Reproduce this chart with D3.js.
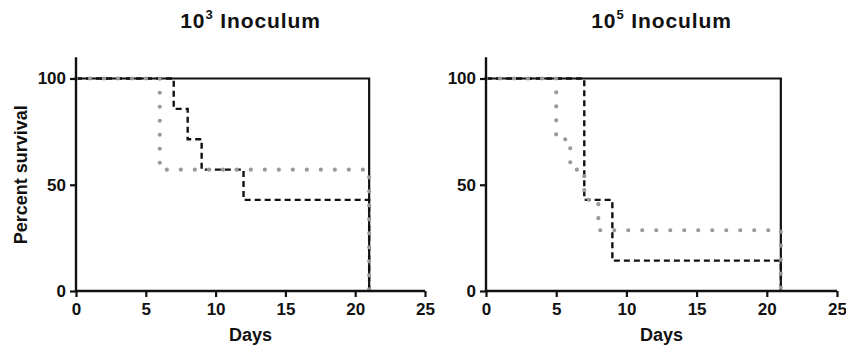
<!DOCTYPE html>
<html>
<head>
<meta charset="utf-8">
<script src="https://cdn.jsdelivr.net/npm/d3@7"></script>
<style>
  body { margin: 0; background: #fff; }
  svg text { font-family: "Liberation Sans", Arial, sans-serif; font-weight: bold; fill: #111; }
</style>
</head>
<body>
<svg id="chart" width="846" height="349"></svg>
<script>
const svg = d3.select("#chart");

// survival curves as [day, percent] pairs (step after)
const low_solid  = [[0, 100], [21, 0]];
const low_dashed = [[0, 100], [7, 85.7], [8, 71.4], [9, 57.1], [12, 42.9], [21, 0]];
const low_dotted = [[0, 100], [6, 57.1], [21, 0]];

const high_solid  = [[0, 100], [21, 0]];
const high_dashed = [[0, 100], [7, 42.9], [9, 14.3], [21, 0]];
const high_dotted = [[0, 100], [5, 71.4], [6, 57.1], [7, 42.9], [8, 28.6], [21, 0]];

const xTicks = [0, 5, 10, 15, 20, 25];
const yTicks = [0, 50, 100];

const panels = [
    { title: "10", sup: "3", left: 76, right: 425, ylabel: true,
      series: [low_solid, low_dashed, low_dotted] },
    { title: "10", sup: "5", left: 486, right: 837, ylabel: false,
      series: [high_solid, high_dashed, high_dotted] }
];

const styles = [
    { stroke: "#111", width: 2.2, dash: null, cap: "butt" },
    { stroke: "#111", width: 2.4, dash: "6,4", cap: "butt" },
    { stroke: "#999", width: 4.2, dash: "0,14", cap: "round" }
];

const bottom = 291;
const top100 = 78.5;

panels.forEach(p => {
    const x = d3.scaleLinear().domain([0, 25]).range([p.left, p.right]);
    const y = d3.scaleLinear().domain([0, 100]).range([bottom, top100]);

    const g = svg.append("g");

    const line = d3.line()
        .x(d => x(d[0]))
        .y(d => y(d[1]))
        .curve(d3.curveStepAfter);

    p.series.forEach((s, i) => {
        const st = styles[i];
        g.append("path")
            .datum(s)
            .attr("d", line)
            .attr("fill", "none")
            .attr("stroke", st.stroke)
            .attr("stroke-width", st.width)
            .attr("stroke-dasharray", st.dash)
            .attr("stroke-linecap", st.cap);
    });

    const xAxis = g.append("g")
        .attr("transform", `translate(0,${bottom})`)
        .call(d3.axisBottom(x).tickValues(xTicks).tickSize(6).tickPadding(6).tickSizeOuter(0));

    const yAxis = g.append("g")
        .attr("transform", `translate(${p.left},0)`)
        .call(d3.axisLeft(y).tickValues(yTicks).tickSize(6).tickPadding(4).tickSizeOuter(0));

    [xAxis, yAxis].forEach(a => {
        a.select(".domain").attr("stroke", "#111").attr("stroke-width", 2.4);
        a.selectAll(".tick line").attr("stroke", "#111").attr("stroke-width", 2.2);
        a.selectAll(".tick text").style("font-size", "17px").attr("fill", "#111");
    });
    // y axis runs a bit above 100
    yAxis.select(".domain").attr("d", `M0,${y(110)}V${bottom + 1}`);
    xAxis.select(".domain").attr("d", `M${p.left - 1},0H${p.right}`);

    // title with superscript
    const cx = (p.left + p.right) / 2;
    const t = g.append("text")
        .attr("x", cx)
        .attr("y", 28)
        .attr("text-anchor", "middle")
        .style("font-size", "21px")
        .style("letter-spacing", "0.9px");
    t.append("tspan").text(p.title);
    t.append("tspan").text(p.sup).attr("dy", -9).style("font-size", "13px");
    t.append("tspan").text(" Inoculum").attr("dy", 9);

    g.append("text")
        .attr("x", cx)
        .attr("y", 341)
        .attr("text-anchor", "middle")
        .style("font-size", "18px")
        .text("Days");

    if (p.ylabel) {
        g.append("text")
            .attr("transform", `translate(27,${(bottom + top100) / 2 - 10}) rotate(-90)`)
            .attr("text-anchor", "middle")
            .style("font-size", "18px")
            .text("Percent survival");
    }
});
</script>
</body>
</html>
